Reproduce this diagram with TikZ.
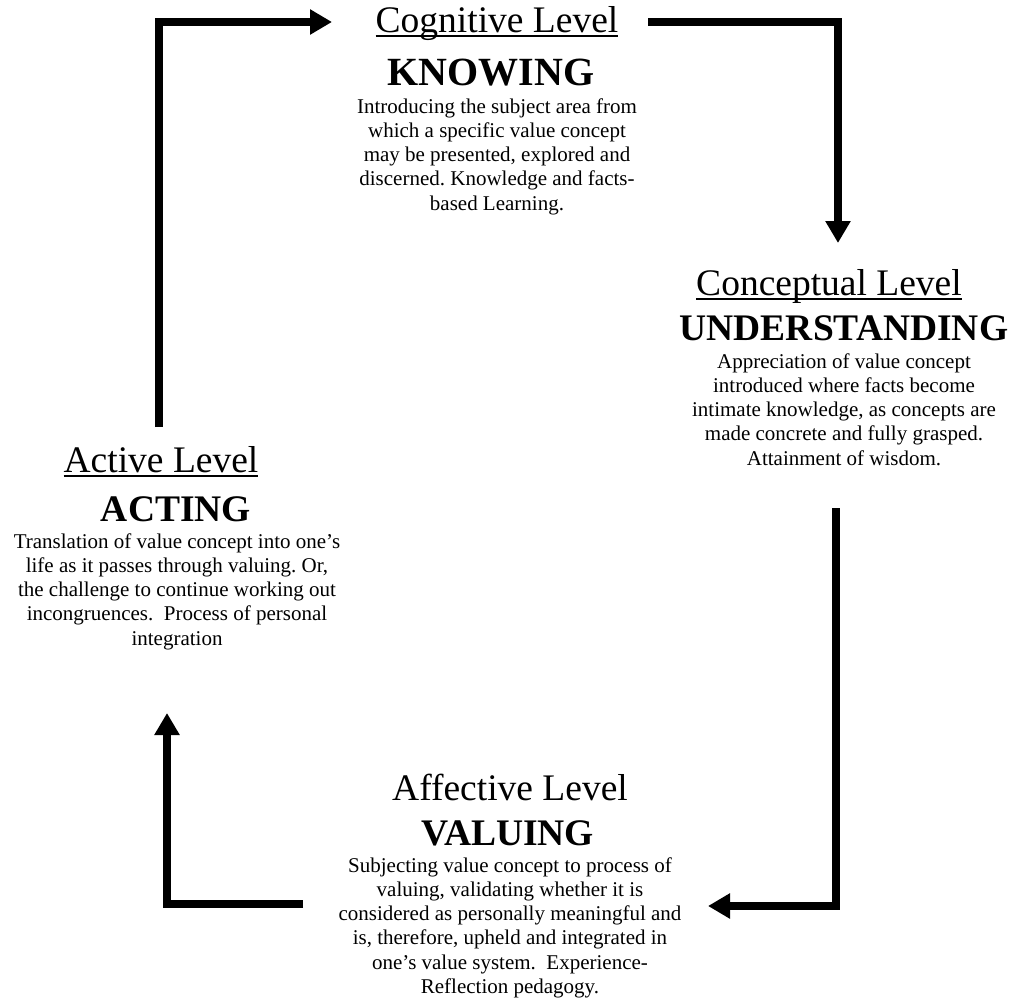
\documentclass[tikz,border=0pt]{standalone}
\usepackage{fontspec}
\setmainfont{Liberation Serif}
\usetikzlibrary{arrows.meta}
\frenchspacing

% word-processor style underline that crosses the descenders
\newcommand\levelul[1]{\setbox0\hbox{#1}\rlap{\rule[-5pt]{\wd0}{1.8pt}}\box0}

\begin{document}
\begin{tikzpicture}[x=1pt,y=-1pt,
  leveltitle/.style={font=\fontsize{37.5}{40}\selectfont, inner sep=0pt, anchor=base},
  stage/.style={font=\fontsize{37.5}{40}\selectfont\bfseries, inner sep=0pt, anchor=base},
  % multi-line blurbs: the base anchor sits on the last line
  blurb/.style={font=\fontsize{21}{24.3}\selectfont, align=center, inner sep=0pt, anchor=base},
  flow/.style={line width=8pt, line join=miter, line cap=butt,
               -{Triangle[length=22pt,width=24pt]}}]
\useasboundingbox (0,0) rectangle (1013,1001);

% ---- Cognitive level (top)
\node[leveltitle] (cogT) at (497,32) {\levelul{Cognitive Level}};
\node[stage, font=\fontsize{40}{44}\selectfont\bfseries] (cogS) at (491,85) {KNOWING};
\node[blurb] (cogB) at (497,210.2) {Introducing the subject area from\\
  which a specific value concept\\ may be presented, explored and\\
  discerned. Knowledge and facts-\\ based Learning.};

% ---- Conceptual level (right)
\node[leveltitle] (conT) at (829,295) {\levelul{Conceptual Level}};
\node[stage] (conS) at (844,340) {UNDERSTANDING};
\node[blurb] (conB) at (844,465.2) {Appreciation of value concept\\
  introduced where facts become\\ intimate knowledge, as concepts are\\
  made concrete and fully grasped.\\ Attainment of wisdom.};

% ---- Affective level (bottom)
\node[leveltitle] (affT) at (510,800) {Affective Level};
\node[stage] (affS) at (508,845) {VALUING};
\node[blurb] (affB) at (510,993.5) {Subjecting value concept to process of\\
  valuing, validating whether it is\\ considered as personally meaningful and\\
  is, therefore, upheld and integrated in\\ one’s value system.\ \ Experience-\\
  Reflection pedagogy.};

% ---- Active level (left)
\node[leveltitle] (actT) at (161,472) {\levelul{Active Level}};
\node[stage] (actS) at (176,521) {ACTING};
\node[blurb] (actB) at (177,645.2) {Translation of value concept into one’s\\
  life as it passes through valuing. Or,\\ the challenge to continue working out\\
  incongruences.\ \ Process of personal\\ integration};

% ---- cycle arrows
\coordinate (actOut) at (159,427);
\coordinate (cogIn)  at (332,22);
\coordinate (cogOut) at (648,22);
\coordinate (conIn)  at (838,243);
\coordinate (conOut) at (836,508);
\coordinate (affIn)  at (708,906);
\coordinate (affOut) at (303,904);
\coordinate (actIn)  at (167,713);

\draw[flow] (actOut) |- (cogIn);
\draw[flow] (cogOut) -| (conIn);
\draw[flow] (conOut) |- (affIn);
\draw[flow] (affOut) -| (actIn);
\end{tikzpicture}
\end{document}
